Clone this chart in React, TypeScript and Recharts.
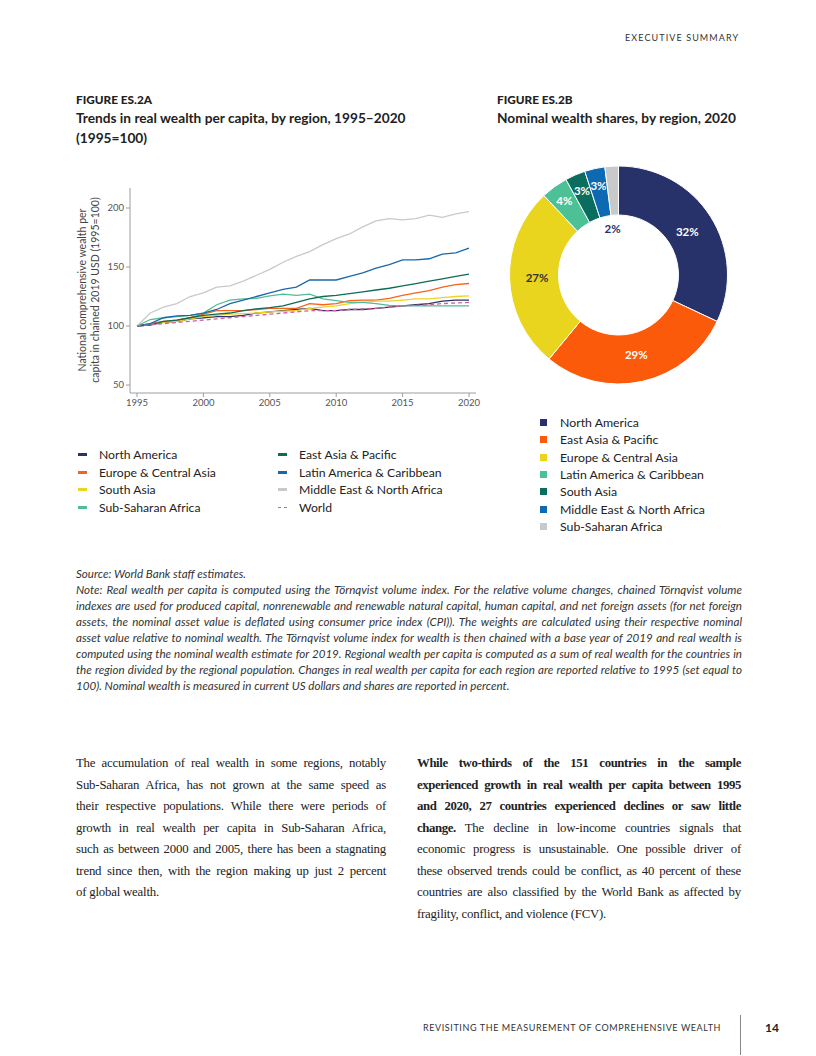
import React from "react";
import { Line, LineChart, Pie, PieChart, Cell, XAxis, YAxis } from "recharts";

const years = [
  1995, 1996, 1997, 1998, 1999, 2000, 2001, 2002, 2003, 2004, 2005, 2006, 2007,
  2008, 2009, 2010, 2011, 2012, 2013, 2014, 2015, 2016, 2017, 2018, 2019, 2020,
];

const northAmerica = [100, 101, 103, 104, 106, 107, 108, 108, 109, 111, 112, 113, 114, 115, 113, 113, 114, 114, 115, 116, 117, 118, 119, 121, 122, 122];
const europeCentralAsia = [100, 102, 104, 105, 107, 110, 113, 113, 113, 114, 115, 115, 115, 119, 118, 119, 121.5, 122, 122, 123.5, 126, 128, 130, 133, 135, 136];
const southAsia = [100, 101.5, 103, 104, 106, 108, 109, 110, 110.5, 111, 112, 112.5, 113, 115, 116, 117, 119, 120, 121, 121, 122, 123, 123, 124, 125, 125.5];
const subSaharanAfrica = [100, 105.5, 107, 108, 109, 111, 118, 122, 123, 123.5, 125.5, 127, 126, 127, 123, 121.5, 120, 120, 119, 117.5, 117, 117, 117, 117, 117, 117];
const eastAsiaPacific = [100, 101, 104, 105, 107, 109, 110, 111, 113, 114.5, 115.6, 117, 120, 123, 125, 126, 127.5, 129, 130.5, 132, 134, 136, 138, 140, 142, 144];
const latinAmerica = [100, 102, 107, 108.5, 109, 111, 114, 119, 122, 125, 128, 131, 133, 139, 139, 139, 142, 145, 149, 152, 156, 156, 157, 161, 162, 166];
const middleEastNorthAfrica = [100, 111, 116, 119, 125, 128, 133, 134, 138, 143, 148, 154, 159, 163, 169, 174, 178, 184, 189, 191, 190, 191, 194, 192, 195, 197];
const world = [100, 101, 102, 103, 104, 105, 106, 107, 108, 109, 110, 111, 112, 113, 113, 113, 114, 114.5, 115, 116, 117, 117.5, 118, 119, 119.5, 120];

const yTicks = [50, 100, 150, 200];
const xTicks = [1995, 2000, 2005, 2010, 2015, 2020];

const pieRegions = [
  "North America",
  "East Asia & Pacific",
  "Europe & Central Asia",
  "Latin America & Caribbean",
  "South Asia",
  "Middle East & North Africa",
  "Sub-Saharan Africa",
];
const pieShares = [32, 29, 27, 4, 3, 3, 2];
const pieColors = ["#27316a", "#fb5a0b", "#e9d41e", "#4cc196", "#0b6d5e", "#0d6ab2", "#c8c9cb"];
const pieLabelColors = ["#fff", "#fff", "#333", "#fff", "#fff", "#fff", "#27316a"];

const lineSeries = [
  { key: "na", name: "North America", color: "#2a3267", values: northAmerica },
  { key: "eca", name: "Europe & Central Asia", color: "#f5631f", values: europeCentralAsia },
  { key: "sa", name: "South Asia", color: "#ecd424", values: southAsia },
  { key: "ssa", name: "Sub-Saharan Africa", color: "#52bd92", values: subSaharanAfrica },
  { key: "eap", name: "East Asia & Pacific", color: "#0f6b56", values: eastAsiaPacific },
  { key: "lac", name: "Latin America & Caribbean", color: "#1b68a9", values: latinAmerica },
  { key: "mena", name: "Middle East & North Africa", color: "#c9c9c9", values: middleEastNorthAfrica },
  { key: "world", name: "World", color: "#d65d9c", values: world, dashed: true },
];

const lineData = years.map((y, i) => {
  const row: Record<string, number> = { year: y };
  lineSeries.forEach((s) => (row[s.key] = s.values[i]));
  return row;
});

const pieData = pieRegions.map((name, i) => ({ name, value: pieShares[i] }));

const noteLines = [
  "Source: World Bank staff estimates.",
  "Note: Real wealth per capita is computed using the Törnqvist volume index. For the relative volume changes, chained Törnqvist volume",
  "indexes are used for produced capital, nonrenewable and renewable natural capital, human capital, and net foreign assets (for net foreign",
  "assets, the nominal asset value is deflated using consumer price index (CPI)). The weights are calculated using their respective nominal",
  "asset value relative to nominal wealth. The Törnqvist volume index for wealth is then chained with a base year of 2019 and real wealth is",
  "computed using the nominal wealth estimate for 2019. Regional wealth per capita is computed as a sum of real wealth for the countries in",
  "the region divided by the regional population. Changes in real wealth per capita for each region are reported relative to 1995 (set equal to",
  "100). Nominal wealth is measured in current US dollars and shares are reported in percent.",
];
const noteJustified = [false, true, true, true, true, true, true, false];

const leftBody = [
  "The accumulation of real wealth in some regions, notably",
  "Sub-Saharan Africa, has not grown at the same speed as",
  "their respective populations. While there were periods of",
  "growth in real wealth per capita in Sub-Saharan Africa,",
  "such as between 2000 and 2005, there has been a stagnating",
  "trend since then, with the region making up just 2 percent",
  "of global wealth.",
];
// [bold part, regular part]
const rightBody: [string, string][] = [
  ["While two-thirds of the 151 countries in the sample", ""],
  ["experienced growth in real wealth per capita between 1995", ""],
  ["and 2020, 27 countries experienced declines or saw little", ""],
  ["change.", " The decline in low-income countries signals that"],
  ["", "economic progress is unsustainable. One possible driver of"],
  ["", "these observed trends could be conflict, as 40 percent of these"],
  ["", "countries are also classified by the World Bank as affected by"],
  ["", "fragility, conflict, and violence (FCV)."],
];

const sans = "Lato, 'Open Sans', sans-serif";
const serif = "'Liberation Serif', serif";

function PieLabel(props: any) {
  const { cx, cy, midAngle, innerRadius, outerRadius, index, value } = props;
  const RAD = Math.PI / 180;
  let r = (innerRadius + outerRadius) / 2 - 3;
  if (index >= 3 && index <= 5) r = outerRadius - 17;
  if (index === 6) r = innerRadius - 13;
  const x = cx + r * Math.cos(-midAngle * RAD);
  const y = cy + r * Math.sin(-midAngle * RAD);
  return (
    <text
      x={index === 6 ? x - 3 : x}
      y={y}
      fill={pieLabelColors[index]}
      textAnchor="middle"
      dominantBaseline="central"
      fontSize={11.5}
      fontWeight={700}
      fontFamily={sans}
    >
      {value}%
    </text>
  );
}

const tickStyle = { fontSize: 9.5, fill: "#555", fontFamily: sans };

const justifyLine = (last: boolean): React.CSSProperties => ({
  textAlign: "justify",
  textAlignLast: last ? "left" : "justify",
  whiteSpace: "normal",
});

export default function App() {
  return (
    <div
      style={{
        position: "absolute",
        left: 0,
        top: 0,
        width: 816,
        height: 1056,
        background: "#fff",
        fontFamily: sans,
        color: "#222",
      }}
    >
      <div style={{ position: "absolute", left: 625, top: 32, fontSize: 9, letterSpacing: 1.1, color: "#333" }}>
        EXECUTIVE SUMMARY
      </div>

      {/* figure A heading */}
      <div style={{ position: "absolute", left: 76, top: 92, width: 380 }}>
        <div style={{ fontSize: 11.8, fontWeight: 900 }}>FIGURE ES.2A</div>
        <div style={{ fontSize: 13.7, fontWeight: 700, lineHeight: "20px", marginTop: 1 }}>
          Trends in real wealth per capita, by region, 1995–2020
          <br />
          (1995=100)
        </div>
      </div>

      {/* figure B heading */}
      <div style={{ position: "absolute", left: 497, top: 92, width: 280 }}>
        <div style={{ fontSize: 11.8, fontWeight: 900 }}>FIGURE ES.2B</div>
        <div style={{ fontSize: 13.7, fontWeight: 700, lineHeight: "20px", marginTop: 1 }}>
          Nominal wealth shares, by region, 2020
        </div>
      </div>

      {/* y axis label */}
      <div
        style={{
          position: "absolute",
          left: 88,
          top: 290,
          width: 260,
          transform: "translate(-50%, -50%) rotate(-90deg)",
          textAlign: "center",
          fontSize: 10.5,
          lineHeight: "12.5px",
          color: "#444",
        }}
      >
        National comprehensive wealth per
        <br />
        capita in chained 2019 USD (1995=100)
      </div>

      <div style={{ position: "absolute", left: 60, top: 180 }}>
        <LineChart width={430} height={240} data={lineData} margin={{ top: 8, right: 14, bottom: 7, left: 30 }}>
          <XAxis
            dataKey="year"
            type="number"
            domain={[1995, 2020]}
            ticks={xTicks}
            padding={{ left: 7, right: 7 }}
            tick={tickStyle}
            tickSize={4}
            height={20}
            stroke="#9aa0a6"
          />
          <YAxis
            type="number"
            domain={[50, 200]}
            ticks={yTicks}
            padding={{ top: 20, bottom: 8 }}
            tick={tickStyle}
            tickSize={4}
            width={40}
            stroke="#9aa0a6"
          />
          {lineSeries.map((s) => (
            <Line
              key={s.key}
              dataKey={s.key}
              name={s.name}
              stroke={s.color}
              strokeWidth={1.3}
              strokeDasharray={s.dashed ? "4 3" : undefined}
              dot={false}
              isAnimationActive={false}
              type="linear"
            />
          ))}
        </LineChart>
      </div>

      {/* line legend */}
      <div style={{ position: "absolute", left: 78, top: 447, fontSize: 12.2 }}>
        {[0, 1].map((col) => (
          <div key={col} style={{ position: "absolute", left: col * 200, top: 0, width: 200 }}>
            {lineSeries.slice(col * 4, col * 4 + 4).map((s, i) => (
              <div key={s.key} style={{ position: "absolute", top: i * 17.5, whiteSpace: "nowrap" }}>
                {s.dashed ? (
                  <span
                    style={{
                      position: "absolute",
                      left: 0,
                      top: 7,
                      width: 9,
                      borderTop: `1.5px dashed ${s.color}`,
                    }}
                  />
                ) : (
                  <span style={{ position: "absolute", left: 0, top: 6, width: 9, height: 3, background: s.color }} />
                )}
                <span style={{ position: "absolute", left: 21, top: 0 }}>{s.name}</span>
              </div>
            ))}
          </div>
        ))}
      </div>

      <div style={{ position: "absolute", left: 496, top: 155 }}>
        <PieChart width={240} height={240}>
          <Pie
            data={pieData}
            dataKey="value"
            cx={117.5}
            cy={115}
            innerRadius={60}
            outerRadius={109}
            startAngle={90}
            endAngle={-270}
            stroke="#fff"
            strokeWidth={1}
            label={PieLabel}
            labelLine={false}
            isAnimationActive={false}
          >
            {pieData.map((d, i) => (
              <Cell key={d.name} fill={pieColors[i]} />
            ))}
          </Pie>
        </PieChart>
      </div>

      {/* pie legend */}
      <div style={{ position: "absolute", left: 540, top: 415, fontSize: 12.3 }}>
        {pieRegions.map((name, i) => (
          <div key={name} style={{ position: "absolute", top: i * 17.3, whiteSpace: "nowrap" }}>
            <span style={{ position: "absolute", left: 0, top: 4, width: 7, height: 7, background: pieColors[i] }} />
            <span style={{ position: "absolute", left: 20, top: 0 }}>{name}</span>
          </div>
        ))}
      </div>

      {/* notes */}
      <div
        style={{
          position: "absolute",
          left: 76,
          top: 566,
          width: 666,
          fontSize: 11.6,
          lineHeight: "16px",
          fontStyle: "italic",
          color: "#333",
        }}
      >
        {noteLines.map((t, i) => (
          <div key={i} style={justifyLine(!noteJustified[i])}>
            {t}
          </div>
        ))}
      </div>

      {/* body text */}
      <div
        style={{
          position: "absolute",
          left: 76,
          top: 753,
          width: 310,
          fontFamily: serif,
          fontSize: 12.8,
          letterSpacing: -0.2,
          lineHeight: "21.5px",
          color: "#222",
        }}
      >
        {leftBody.map((t, i) => (
          <div key={i} style={justifyLine(i === leftBody.length - 1)}>
            {t}
          </div>
        ))}
      </div>
      <div
        style={{
          position: "absolute",
          left: 417,
          top: 753,
          width: 324,
          fontFamily: serif,
          fontSize: 12.8,
          letterSpacing: -0.2,
          lineHeight: "21.5px",
          color: "#222",
        }}
      >
        {rightBody.map(([b, r], i) => (
          <div key={i} style={justifyLine(i === rightBody.length - 1)}>
            {b && <b style={{ letterSpacing: -0.4 }}>{b}</b>}
            {r}
          </div>
        ))}
      </div>

      {/* footer */}
      <div style={{ position: "absolute", left: 423, top: 1022, fontSize: 9, letterSpacing: 0.6, color: "#333" }}>
        REVISITING THE MEASUREMENT OF COMPREHENSIVE WEALTH
      </div>
      <div style={{ position: "absolute", left: 740, top: 1015, width: 1, height: 40, background: "#888" }} />
      <div style={{ position: "absolute", left: 765, top: 1020, fontSize: 12, fontWeight: 700 }}>14</div>
    </div>
  );
}
